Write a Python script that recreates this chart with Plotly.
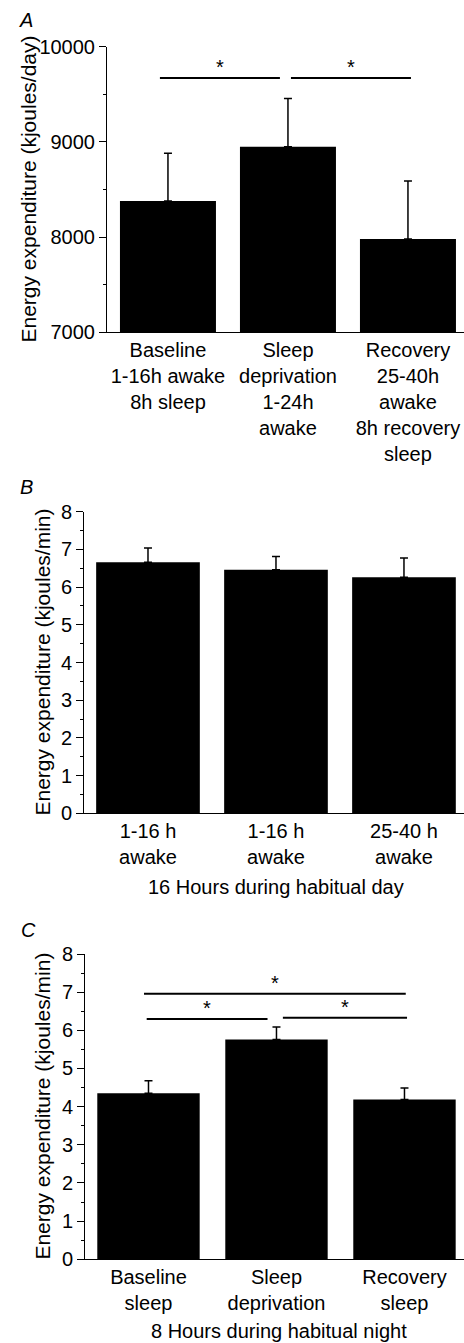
import plotly.graph_objects as go

W, H = 464, 1343
FONT = "Liberation Sans, Arial, Helvetica, sans-serif"
FS = 20

# ---------------- data ----------------
labels_A = ["Baseline<br>1-16h awake<br>8h sleep",
            "Sleep<br>deprivation<br>1-24h<br>awake",
            "Recovery<br>25-40h<br>awake<br>8h recovery<br>sleep"]
values_A = [8380, 8950, 7980]
errors_A = [500, 505, 610]

labels_B = ["1-16 h<br>awake", "1-16 h<br>awake", "25-40 h<br>awake"]
values_B = [6.66, 6.46, 6.26]
errors_B = [0.38, 0.35, 0.51]

labels_C = ["Baseline<br>sleep", "Sleep<br>deprivation", "Recovery<br>sleep"]
values_C = [4.35, 5.76, 4.19]
errors_C = [0.33, 0.33, 0.30]

# significance brackets: (from bar, to bar, level)
sig_A = [(0, 1, 9670), (1, 2, 9670)]
sig_C = [(0, 2, 6.96), (0, 1, 6.30), (1, 2, 6.33)]

# ---------------- helpers ----------------
def py(y):
    return 1 - y / H

def px(x):
    return x / W

fig = go.Figure()
pos = [0, 1, 2]

def add_bars(vals, errs, xa, ya, width):
    fig.add_trace(go.Bar(
        x=pos, y=vals, width=width, xaxis=xa, yaxis=ya,
        marker=dict(color="black", line=dict(width=0)),
        error_y=dict(type="data", array=errs, arrayminus=[0] * len(errs),
                     symmetric=False, color="black", thickness=1.5, width=4),
        showlegend=False, hoverinfo="skip"))

add_bars(values_A, errors_A, "x", "y", 0.8)
add_bars(values_B, errors_B, "x2", "y2", 0.81)
add_bars(values_C, errors_C, "x3", "y3", 0.8)

def xaxis(domain, rng, ticktext, anchor):
    return dict(domain=domain, range=rng, anchor=anchor, showline=True,
                linecolor="black", linewidth=1, tickvals=pos, ticktext=ticktext,
                ticks="", showgrid=False, zeroline=False, fixedrange=True,
                automargin=False,
                tickfont=dict(family=FONT, size=FS, color="black"))

def yaxis(domain, rng, dtick, minor, anchor):
    return dict(domain=domain, range=rng, anchor=anchor, showline=True,
                linecolor="black", linewidth=1, ticks="outside", ticklen=7,
                tickwidth=1, tickcolor="black", dtick=dtick, tick0=rng[0],
                tickformat="d", automargin=False,
                minor=dict(dtick=minor, ticks="outside", ticklen=3,
                           tickcolor="black", tickwidth=1),
                showgrid=False, zeroline=False, fixedrange=True,
                tickfont=dict(family=FONT, size=FS, color="black"))

fig.update_layout(
    width=W, height=H, margin=dict(l=0, r=0, t=0, b=0, pad=0, autoexpand=False),
    paper_bgcolor="white", plot_bgcolor="white",
    font=dict(family=FONT, size=FS, color="black"),
    bargap=0.2,
    xaxis=xaxis([px(107), 1], [-0.508, 2.467], labels_A, "y"),
    yaxis=yaxis([py(332.3), py(46.7)], [7000, 10000], 1000, 500, "x"),
    xaxis2=xaxis([px(84), 1], [-0.5, 2.469], labels_B, "y2"),
    yaxis2=yaxis([py(813.3), py(511.7)], [0, 8], 1, 0.5, "x2"),
    xaxis3=xaxis([px(85), 1], [-0.496, 2.465], labels_C, "y3"),
    yaxis3=yaxis([py(1259.3), py(954)], [0, 8], 1, 0.5, "x3"),
)

shapes = []
annotations = []

def add_sig(sigs, xr, yr, insets, star_dy):
    for (i, j, lvl), (a, b) in zip(sigs, insets):
        shapes.append(dict(type="line", xref=xr, yref=yr, x0=i + a, x1=j + b,
                           y0=lvl, y1=lvl, line=dict(color="black", width=2)))
        annotations.append(dict(xref=xr, yref=yr, x=(i + a + j + b) / 2, y=lvl,
                                text="*", showarrow=False, yanchor="bottom",
                                yshift=star_dy, font=dict(family=FONT, size=FS)))

add_sig(sig_A, "x", "y", [(-0.067, -0.067), (0.025, 0.025)], -2)
add_sig(sig_C, "x3", "y3", [(-0.035, 0.01), (-0.014, -0.07), (0.05, 0.02)], -2)

def text(x, y, s, size=FS, angle=0, italic=False):
    annotations.append(dict(xref="paper", yref="paper", x=px(x), y=py(y),
                            text=f"<i>{s}</i>" if italic else s, showarrow=False,
                            xanchor="center", yanchor="middle", textangle=angle,
                            font=dict(family=FONT, size=size, color="black")))

text(26, 20, "A", italic=True)
text(26, 487, "B", italic=True)
text(28, 930, "C", italic=True)
text(28, 189.5, "Energy expenditure (kjoules/day)", size=21, angle=-90)
text(42, 662.5, "Energy expenditure (kjoules/min)", size=21, angle=-90)
text(43, 1106.6, "Energy expenditure (kjoules/min)", size=21, angle=-90)
text(276, 887, "16 Hours during habitual day")
text(279, 1330.7, "8 Hours during habitual night")

fig.update_layout(shapes=shapes, annotations=annotations)
fig.write_html("out.html", config={"displayModeBar": False},
               post_script="document.body.style.margin='0';document.body.style.padding='0';document.body.style.overflow='hidden';")
